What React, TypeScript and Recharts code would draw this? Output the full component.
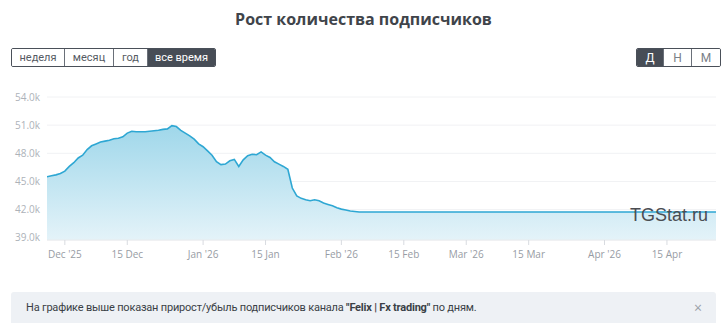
import React from "react";
import { AreaChart, Area, XAxis, YAxis, CartesianGrid } from "recharts";

const dates = [
  "2025-11-27", "2025-11-28", "2025-11-29", "2025-11-30",
  "2025-12-01", "2025-12-02", "2025-12-03", "2025-12-04", "2025-12-05", "2025-12-06", "2025-12-07",
  "2025-12-08", "2025-12-09", "2025-12-10", "2025-12-11", "2025-12-12", "2025-12-13", "2025-12-14",
  "2025-12-15", "2025-12-16", "2025-12-17", "2025-12-18", "2025-12-19", "2025-12-20", "2025-12-21",
  "2025-12-22", "2025-12-23", "2025-12-24", "2025-12-25", "2025-12-26", "2025-12-27", "2025-12-28",
  "2025-12-29", "2025-12-30", "2025-12-31",
  "2026-01-01", "2026-01-02", "2026-01-03", "2026-01-04", "2026-01-05", "2026-01-06", "2026-01-07",
  "2026-01-08", "2026-01-09", "2026-01-10", "2026-01-11", "2026-01-12", "2026-01-13", "2026-01-14",
  "2026-01-15", "2026-01-16", "2026-01-17", "2026-01-18", "2026-01-19", "2026-01-20", "2026-01-21",
  "2026-01-22", "2026-01-23", "2026-01-24", "2026-01-25", "2026-01-26", "2026-01-27", "2026-01-28",
  "2026-01-29", "2026-01-30", "2026-01-31",
  "2026-02-01", "2026-02-02", "2026-02-03", "2026-02-04", "2026-02-05",
  "2026-02-15", "2026-03-01", "2026-03-15", "2026-04-01", "2026-04-15", "2026-04-26",
];

const subscribers = [
  45500, 45600, 45700, 45850,
  46100, 46600, 47000, 47500, 47800, 48400, 48800,
  49000, 49200, 49300, 49400, 49550, 49600, 49750,
  50150, 50350, 50300, 50300, 50300, 50350, 50400,
  50450, 50550, 50600, 50950, 50850, 50450, 50150,
  49850, 49500, 49000,
  48700, 48250, 47800, 47100, 46800, 46850, 47200,
  47350, 46600, 47300, 47750, 47900, 47850, 48150,
  47800, 47550, 47100, 46850, 46600, 46300, 44300,
  43450, 43200, 43050, 42950, 43050, 42950, 42700,
  42550, 42400, 42200,
  42050, 41950, 41850, 41800, 41750,
  41750, 41750, 41750, 41750, 41750, 41750,
];

const xTickDates = [
  "2025-12-01", "2025-12-15", "2026-01-01", "2026-01-15", "2026-02-01",
  "2026-02-15", "2026-03-01", "2026-03-15", "2026-04-01", "2026-04-15",
];
const xTickLabels = [
  "Dec '25", "15 Dec", "Jan '26", "15 Jan", "Feb '26",
  "15 Feb", "Mar '26", "15 Mar", "Apr '26", "15 Apr",
];
const yTicks = [39000, 42000, 45000, 48000, 51000, 54000];
const yTickLabels = ["39.0k", "42.0k", "45.0k", "48.0k", "51.0k", "54.0k"];

const periodButtons = ["неделя", "месяц", "год", "все время"];
const scaleButtons = ["Д", "Н", "М"];

const ORIGIN = Date.parse("2025-12-01T00:00:00Z");
const toDay = (d: string) => Math.round((Date.parse(d + "T00:00:00Z") - ORIGIN) / 86400000);

const data = dates.map((d, i) => ({ day: toDay(d), value: subscribers[i] }));
const xTicks = xTickDates.map(toDay);
const xLabelMap: Record<number, string> = {};
xTicks.forEach((t, i) => (xLabelMap[t] = xTickLabels[i]));
const yLabelMap: Record<number, string> = {};
yTicks.forEach((t, i) => (yLabelMap[t] = yTickLabels[i]));

const FONT = "'Open Sans', 'DejaVu Sans', sans-serif";

export default function App() {
  const btnBase: React.CSSProperties = {
    boxSizing: "border-box",
    height: 17,
    display: "flex",
    alignItems: "center",
    justifyContent: "center",
    fontSize: 11,
    fontFamily: "Roboto, sans-serif",
    color: "#555b63",
    borderRight: "1px solid #6a7079",
  };
  const periodWidths = [53, 49, 34, 67];
  const scaleWidths = [27, 28, 28];
  return (
    <div
      style={{
        position: "absolute",
        left: 0,
        top: 0,
        width: 727,
        height: 323,
        background: "#ffffff",
        overflow: "hidden",
        fontFamily: FONT,
      }}
    >
      <div
        style={{
          position: "absolute",
          left: 0,
          top: 8,
          width: 727,
          textAlign: "center",
          fontSize: 16,
          fontWeight: 700,
          color: "#40444a",
        }}
      >
        Рост количества подписчиков
      </div>

      <div
        style={{
          position: "absolute",
          left: 11,
          top: 48,
          display: "flex",
          border: "1px solid #4a5059",
          borderRadius: 2,
          overflow: "hidden",
        }}
      >
        {periodButtons.map((b, i) => (
          <div
            key={b}
            style={{
              ...btnBase,
              width: periodWidths[i],
              background: i === 3 ? "#474d56" : "#ffffff",
              color: i === 3 ? "#ffffff" : "#555b63",
              borderRight: i === 3 ? "none" : "1px solid #6a7079",
            }}
          >
            {b}
          </div>
        ))}
      </div>

      <div
        style={{
          position: "absolute",
          left: 636,
          top: 48,
          display: "flex",
          border: "1px solid #4a5059",
          borderRadius: 2,
          overflow: "hidden",
        }}
      >
        {scaleButtons.map((b, i) => (
          <div
            key={b}
            style={{
              ...btnBase,
              width: scaleWidths[i],
              fontSize: 12,
              background: i === 0 ? "#474d56" : "#ffffff",
              color: i === 0 ? "#ffffff" : "#7a8088",
              borderRight: i === 2 ? "none" : "1px solid #6a7079",
            }}
          >
            {b}
          </div>
        ))}
      </div>

      <div style={{ position: "absolute", left: 0, top: 0 }}>
        <AreaChart
          width={727}
          height={270}
          data={data}
          margin={{ top: 97, right: 11, bottom: 0, left: 0 }}
        >
          <defs>
            <linearGradient id="subFill" x1="0" y1="0" x2="0" y2="1">
              <stop offset="0%" stopColor="#9fd7ea" stopOpacity={1} />
              <stop offset="100%" stopColor="#e4f3f9" stopOpacity={1} />
            </linearGradient>
          </defs>
          <CartesianGrid horizontal vertical={false} stroke="#f1f2f4" />
          <XAxis
            dataKey="day"
            type="number"
            height={30}
            domain={[-4, 146]}
            ticks={xTicks}
            tickFormatter={(v: number) => xLabelMap[v] ?? ""}
            tick={{ fill: "#979ca4", fontSize: 10, fontFamily: FONT }}
            tickLine={{ stroke: "#d8dbe0" }}
            axisLine={{ stroke: "#e8eaed" }}
            tickSize={5}
            tickMargin={6}
            allowDataOverflow
          />
          <YAxis
            type="number"
            width={47}
            domain={[38760, 54000]}
            ticks={yTicks}
            tickFormatter={(v: number) => yLabelMap[v] ?? ""}
            tick={{ fill: "#adb2b9", fontSize: 10, fontFamily: FONT }}
            tickLine={false}
            axisLine={false}
            tickSize={5}
            tickMargin={2}
            allowDataOverflow
          />
          <Area
            type="linear"
            dataKey="value"
            stroke="#2ea7d3"
            strokeWidth={1.6}
            fill="url(#subFill)"
            fillOpacity={1}
            isAnimationActive={false}
            dot={false}
            activeDot={false}
          />
        </AreaChart>
      </div>

      <div
        style={{
          position: "absolute",
          left: 630,
          top: 205,
          fontSize: 18,
          fontFamily: "'Liberation Sans', Arial, sans-serif",
          color: "#4a4d52",
        }}
      >
        TGStat.ru
      </div>

      <div
        style={{
          position: "absolute",
          left: 11,
          top: 292,
          width: 705,
          height: 40,
          background: "#eef1f5",
          borderRadius: 3,
        }}
      >
        <div
          style={{
            position: "absolute",
            left: 15,
            top: 9,
            fontSize: 11,
            fontFamily: "Roboto, sans-serif",
            letterSpacing: -0.2,
            color: "#3a3f46",
            whiteSpace: "nowrap",
          }}
        >
          На графике выше показан прирост/убыль подписчиков канала{" "}
          <b>"Felix | Fx trading"</b> по дням.
        </div>
        <div
          style={{
            position: "absolute",
            left: 683,
            top: 6,
            fontSize: 14,
            color: "#9aa0a8",
          }}
        >
          ×
        </div>
      </div>
    </div>
  );
}
